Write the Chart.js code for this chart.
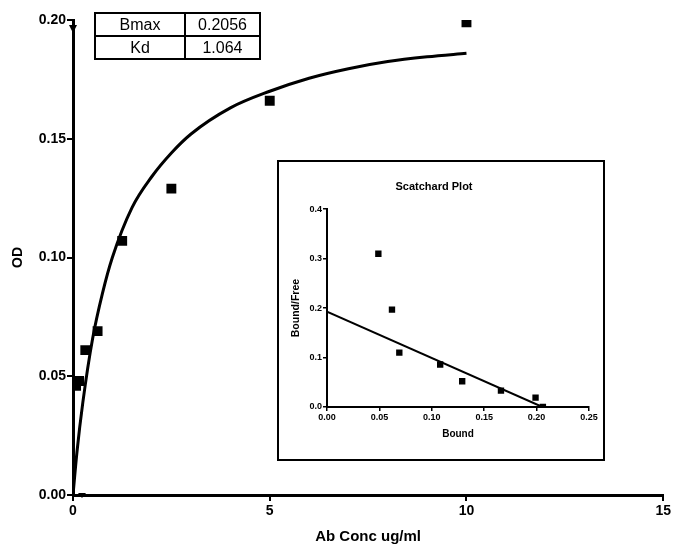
<!DOCTYPE html>
<html>
<head>
<meta charset="utf-8">
<script src="https://cdn.jsdelivr.net/npm/chart.js@4"></script>
<style>
  body { margin: 0; background: #fff; font-family: "Liberation Sans", Arial, sans-serif; }
  #wrap { position: relative; width: 673px; height: 550px; }
  #mainChart { position: absolute; left: 0; top: 0; }
  #params { position: absolute; left: 94px; top: 12px; border-collapse: collapse; font-size: 16px; }
  #params td { border: 2px solid #000; height: 21px; padding: 0; text-align: center; line-height: 21px; }
  #inset { position: absolute; left: 277px; top: 160px; width: 328px; height: 301px;
           box-sizing: border-box; border: 2px solid #000; background: #fff; }
  #insetChart { position: absolute; left: 0; top: 0; }
</style>
</head>
<body>
<div id="wrap">
  <canvas id="mainChart" width="673" height="550"></canvas>
  <table id="params">
    <tr><td style="width:88px">Bmax</td><td style="width:73px">0.2056</td></tr>
    <tr><td>Kd</td><td>1.064</td></tr>
  </table>
  <div id="inset"><canvas id="insetChart" width="324" height="297"></canvas></div>
</div>
<script>
// saturation binding data
const concX = [0.078, 0.156, 0.3125, 0.625, 1.25, 2.5, 5, 10];
const odY = [0.046, 0.048, 0.061, 0.069, 0.107, 0.129, 0.166, 0.199];

// fitted curve
const fitX = [0, 0.1, 0.25, 0.5, 0.75, 1, 1.5, 2, 2.5, 3, 4, 5, 6, 7, 8, 9, 10];
const fitY = [0, 0.018, 0.039, 0.066, 0.085, 0.1, 0.121, 0.134, 0.144, 0.152, 0.163, 0.170, 0.1755, 0.1795, 0.1825, 0.1845, 0.186];

// scatchard inset
const boundX = [0.049, 0.062, 0.069, 0.108, 0.129, 0.166, 0.199, 0.206];
const bfY = [0.31, 0.197, 0.11, 0.086, 0.052, 0.033, 0.019, 0.0];
const lineX = [0, 0.2056];
const lineY = [0.193, 0];

const xTicks = [0, 5, 10, 15];

const toXY = (xs, ys) => xs.map((x, i) => ({ x: x, y: ys[i] }));

const FONT = '"Liberation Sans", Arial, sans-serif';

// the little arrow heads GraphPad puts on the axes
const arrowPlugin = {
  id: 'arrows',
  afterDraw(chart) {
    const ctx = chart.ctx;
    const x0 = chart.scales.x.getPixelForValue(0);
    const yTop = chart.scales.y.getPixelForValue(0.2);
    const y0 = chart.scales.y.getPixelForValue(0);
    ctx.save();
    ctx.fillStyle = '#000';
    ctx.beginPath();
    ctx.moveTo(x0 - 4, yTop + 5);
    ctx.lineTo(x0 + 4, yTop + 5);
    ctx.lineTo(x0, yTop + 13);
    ctx.closePath();
    ctx.fill();
    ctx.beginPath();
    ctx.moveTo(x0 + 5, y0 - 2);
    ctx.lineTo(x0 + 13, y0 - 2);
    ctx.lineTo(x0 + 9, y0 + 3);
    ctx.closePath();
    ctx.fill();
    ctx.restore();
  }
};

new Chart(document.getElementById('mainChart'), {
  type: 'scatter',
  data: {
    datasets: [
      {
        data: toXY(concX, odY),
        pointStyle: 'rect',
        pointRadius: 7,
        backgroundColor: '#000',
        borderColor: '#000',
        borderWidth: 0
      },
      {
        data: toXY(fitX, fitY),
        showLine: true,
        pointRadius: 0,
        borderColor: '#000',
        borderWidth: 3,
        cubicInterpolationMode: 'monotone'
      }
    ]
  },
  options: {
    responsive: false,
    animation: false,
    layout: { padding: { top: 20, right: 9, left: 0, bottom: 0 } },
    plugins: { legend: { display: false }, tooltip: { enabled: false } },
    scales: {
      x: {
        type: 'linear', min: 0, max: 15,
        afterFit(s) { s.height = 55; },
        afterBuildTicks(s) { s.ticks = xTicks.map(v => ({ value: v })); },
        grid: { drawOnChartArea: false, color: '#000', lineWidth: 2, tickLength: 6 },
        border: { color: '#000', width: 3 },
        ticks: { color: '#000', font: { family: FONT, size: 14, weight: 'bold' }, padding: 2, maxRotation: 0 },
        title: { display: true, text: 'Ab Conc ug/ml', color: '#000',
                 font: { family: FONT, size: 15, weight: 'bold' }, padding: { bottom: 4 } }
      },
      y: {
        min: 0, max: 0.2,
        afterFit(s) { s.width = 73; },
        grid: { drawOnChartArea: false, color: '#000', lineWidth: 2, tickLength: 6 },
        border: { color: '#000', width: 3 },
        ticks: { stepSize: 0.05, color: '#000', padding: 1,
                 font: { family: FONT, size: 14, weight: 'bold' },
                 callback: v => v.toFixed(2) },
        title: { display: true, text: 'OD', color: '#000',
                 font: { family: FONT, size: 14, weight: 'bold' }, padding: { top: 10 } }
      }
    }
  },
  plugins: [arrowPlugin]
});

new Chart(document.getElementById('insetChart'), {
  type: 'scatter',
  data: {
    datasets: [
      {
        data: toXY(boundX, bfY),
        pointStyle: 'rect',
        pointRadius: 4.5,
        backgroundColor: '#000',
        borderColor: '#000',
        borderWidth: 0
      },
      {
        data: toXY(lineX, lineY),
        showLine: true,
        pointRadius: 0,
        borderColor: '#000',
        borderWidth: 2
      }
    ]
  },
  options: {
    responsive: false,
    animation: false,
    layout: { padding: { top: 0, right: 14, left: 0, bottom: 0 } },
    plugins: {
      legend: { display: false },
      tooltip: { enabled: false },
      title: { display: true, text: 'Scatchard Plot', color: '#000',
               font: { family: FONT, size: 11, weight: 'bold' }, padding: { top: 18, bottom: 16 } }
    },
    scales: {
      x: {
        type: 'linear', min: 0, max: 0.25,
        afterFit(s) { s.height = 52; },
        grid: { drawOnChartArea: false, color: '#000', lineWidth: 1.5, tickLength: 4 },
        border: { color: '#000', width: 2 },
        ticks: { stepSize: 0.05, color: '#000', padding: 1, maxRotation: 0,
                 font: { family: FONT, size: 9, weight: 'bold' },
                 callback: v => v.toFixed(2) },
        title: { display: true, text: 'Bound', color: '#000',
                 font: { family: FONT, size: 10, weight: 'bold' }, padding: { bottom: 19 } }
      },
      y: {
        min: 0, max: 0.4,
        afterFit(s) { s.width = 48; },
        grid: { drawOnChartArea: false, color: '#000', lineWidth: 1.5, tickLength: 4 },
        border: { color: '#000', width: 2 },
        ticks: { stepSize: 0.1, color: '#000', padding: 1,
                 font: { family: FONT, size: 9, weight: 'bold' },
                 callback: v => v.toFixed(1) },
        title: { display: true, text: 'Bound/Free', color: '#000',
                 font: { family: FONT, size: 10.5, weight: 'bold' }, padding: { top: 11 } }
      }
    }
  }
});
</script>
</body>
</html>
